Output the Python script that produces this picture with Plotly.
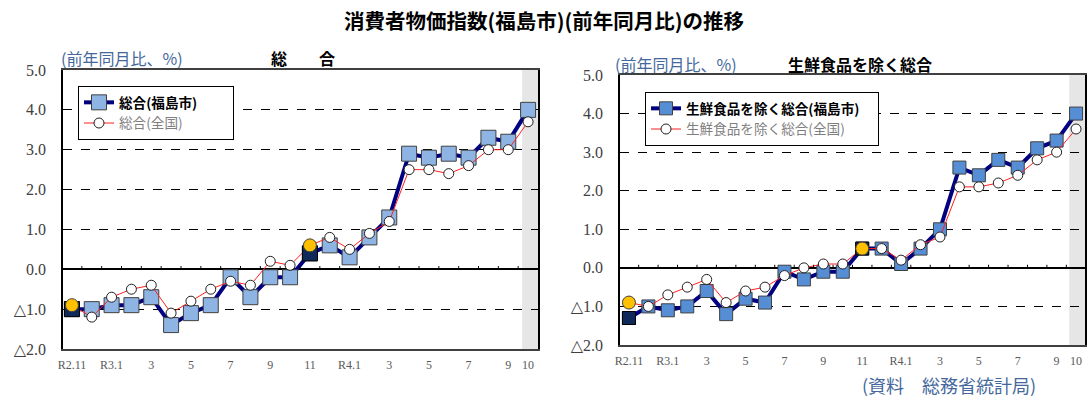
import plotly.graph_objects as go

# months R2.11 .. R4.10
months = ["R2.11", "R2.12", "R3.1", "R3.2", "R3.3", "R3.4", "R3.5", "R3.6", "R3.7", "R3.8",
          "R3.9", "R3.10", "R3.11", "R3.12", "R4.1", "R4.2", "R4.3", "R4.4", "R4.5", "R4.6",
          "R4.7", "R4.8", "R4.9", "R4.10"]
tick_labels = ["R2.11", "", "R3.1", "", "3", "", "5", "", "7", "", "9", "", "11", "",
               "R4.1", "", "3", "", "5", "", "7", "", "9", "10"]

total_fukushima = [-1.0, -1.0, -0.9, -0.9, -0.7, -1.4, -1.1, -0.9, -0.2, -0.7, -0.2, -0.2,
                   0.4, 0.6, 0.3, 0.8, 1.3, 2.9, 2.8, 2.9, 2.8, 3.3, 3.2, 4.0]
total_japan = [-0.9, -1.2, -0.7, -0.5, -0.4, -1.1, -0.8, -0.5, -0.3, -0.4, 0.2, 0.1,
               0.6, 0.8, 0.5, 0.9, 1.2, 2.5, 2.5, 2.4, 2.6, 3.0, 3.0, 3.7]
core_fukushima = [-1.3, -1.0, -1.1, -1.0, -0.6, -1.2, -0.8, -0.9, -0.1, -0.3, -0.1, -0.1,
                  0.5, 0.5, 0.1, 0.5, 1.0, 2.6, 2.4, 2.8, 2.6, 3.1, 3.3, 4.0]
core_japan = [-0.9, -1.0, -0.7, -0.5, -0.3, -0.9, -0.6, -0.5, -0.2, 0.0, 0.1, 0.1,
              0.5, 0.5, 0.2, 0.6, 0.8, 2.1, 2.1, 2.2, 2.4, 2.8, 3.0, 3.6]

y_ticks = [-2, -1, 0, 1, 2, 3, 4, 5]
y_labels = ["△2.0", "△1.0", "0.0", "1.0", "2.0", "3.0", "4.0", "5.0"]

SERIF = "Liberation Serif, DejaVu Serif, serif"
JP = "Noto Sans CJK JP, sans-serif"
UNIT_COLOR = "#44689c"

idx = list(range(len(months)))
hl = [i for i, m in enumerate(months) if m.endswith(".11")]  # highlighted November points


def add_panel(fig, city, japan, xa, ya, legend, city_name, japan_name, sq_color, sq_size, pad):
    fig.add_trace(go.Scatter(
        x=idx, y=city, xaxis=xa, yaxis=ya, legend=legend,
        # trailing blank keeps the legend box as wide as in the original
        name=f"<b>{city_name}</b>" + pad + "\u200b", mode="lines+markers",
        line=dict(color="#000080", width=4),
        marker=dict(symbol="square", size=sq_size, color=sq_color,
                    line=dict(color="#404040", width=1)),
    ))
    fig.add_trace(go.Scatter(
        x=idx, y=japan, xaxis=xa, yaxis=ya, legend=legend,
        name=f"<span style='color:#7f7f7f'>{japan_name}</span>", mode="lines+markers",
        line=dict(color="#ff2020", width=1),
        marker=dict(symbol="circle", size=10, color="white",
                    line=dict(color="#202020", width=1)),
    ))
    fig.add_trace(go.Scatter(
        x=hl, y=[city[i] for i in hl], xaxis=xa, yaxis=ya, showlegend=False,
        mode="markers",
        marker=dict(symbol="square", size=sq_size, color="#0f2a5a",
                    line=dict(color="#000000", width=1)),
    ))
    fig.add_trace(go.Scatter(
        x=hl, y=[japan[i] for i in hl], xaxis=xa, yaxis=ya, showlegend=False,
        mode="markers",
        marker=dict(symbol="circle", size=13, color="#ffc000",
                    line=dict(color="#404040", width=1)),
    ))


fig = go.Figure()
add_panel(fig, total_fukushima, total_japan, "x", "y", "legend",
          "総合(福島市)", "総合(全国)", "#8db4e2", 15, "　　 ")
add_panel(fig, core_fukushima, core_japan, "x2", "y2", "legend2",
          "生鮮食品を除く総合(福島市)", "生鮮食品を除く総合(全国)", "#558ed5", 13, "　")

W, H = 1088, 398

xaxis_common = dict(
    tickmode="array", tickvals=idx, ticktext=tick_labels,
    tickfont=dict(family=SERIF, size=12, color="#595959"),
    showgrid=False, zeroline=False, automargin=False,
    showline=True, linecolor="#404040", linewidth=1.5, mirror=True,
    ticks="outside", ticklen=4, tickcolor="rgba(0,0,0,0)",
)
yaxis_common = dict(
    range=[-2, 5], tickmode="array", tickvals=y_ticks, ticktext=y_labels,
    tickfont=dict(family=SERIF, size=16, color="#404040"),
    showgrid=True, gridcolor="#000000", griddash="dash", gridwidth=1,
    zeroline=True, zerolinecolor="#000000", zerolinewidth=1.5,
    showline=True, linecolor="#000000", linewidth=1.5, mirror=True,
    ticks="", ticklabelstandoff=12, automargin=False,
)

shapes = []
for xa, ya, x0 in [("x", "y", 22.7), ("x2", "y2", 22.65)]:
    shapes.append(dict(type="rect", xref=xa, yref=f"{ya} domain", x0=x0, x1=23.55,
                       y0=0, y1=1, fillcolor="#e6e6e6", line=dict(width=0), layer="below"))
    for i in idx[:-1]:
        shapes.append(dict(type="line", xref=xa, yref=ya, x0=i + 0.5, x1=i + 0.5,
                           y0=0, y1=0.08, line=dict(color="#000000", width=1)))

legend_common = dict(
    xanchor="left", yanchor="top",
    bgcolor="white", bordercolor="#000000", borderwidth=1,
    font=dict(family=JP, size=13.6, color="#000000"),
    itemwidth=30, tracegroupgap=0,
)

fig.update_layout(
    width=W, height=H,
    margin=dict(l=0, r=0, t=0, b=0, autoexpand=False),
    paper_bgcolor="white", plot_bgcolor="white",
    font=dict(family=JP),
    xaxis=dict(domain=[63 / W, 538 / W], range=[-0.45, 23.5], anchor="y", **xaxis_common),
    yaxis=dict(domain=[1 - 349 / H, 1 - 70 / H], anchor="x", **yaxis_common),
    xaxis2=dict(domain=[620 / W, 1085 / W], range=[-0.46, 23.46], anchor="y2", **xaxis_common),
    yaxis2=dict(domain=[1 - 345 / H, 1 - 75 / H], anchor="x2", **yaxis_common),
    legend=dict(x=78 / W, y=1 - 86 / H, **legend_common),
    legend2=dict(x=645 / W, y=1 - 92 / H, **legend_common),
    shapes=shapes,
    showlegend=True,
)

annotations = [
    dict(text="<b>消費者物価指数(福島市)(前年同月比)の推移</b>", x=544 / W, y=1 - 20 / H,
         font=dict(size=20.5, color="#000000")),
    dict(text="(前年同月比、%)", x=122 / W, y=1 - 58 / H, font=dict(size=16, color=UNIT_COLOR)),
    dict(text="<b>総　　合</b>", x=303 / W, y=1 - 58 / H, font=dict(size=16, color="#000000")),
    dict(text="(前年同月比、%)", x=676 / W, y=1 - 64 / H, font=dict(size=16, color=UNIT_COLOR)),
    dict(text="<b>生鮮食品を除く総合</b>", x=860 / W, y=1 - 64 / H, font=dict(size=16, color="#000000")),
    dict(text="(資料　総務省統計局)", x=949 / W, y=1 - 385 / H, font=dict(size=18, color=UNIT_COLOR)),
]
for a in annotations:
    fig.add_annotation(xref="paper", yref="paper", showarrow=False,
                       xanchor="center", yanchor="middle", **a)

# drop the default page margin so the 1088x398 figure fills the window exactly
fig.write_html("out.html", config={"displayModeBar": False},
               post_script="document.body.style.margin='0';")
